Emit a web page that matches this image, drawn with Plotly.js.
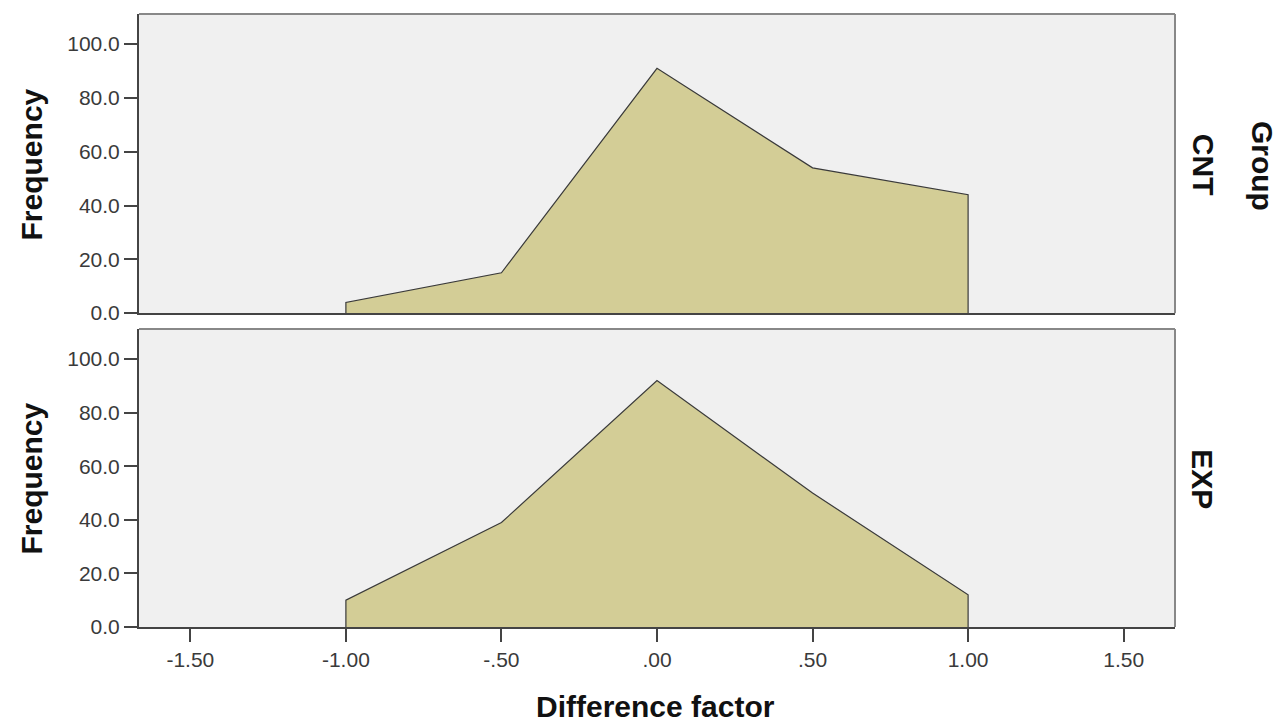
<!DOCTYPE html>
<html>
<head>
<meta charset="utf-8">
<script src="https://cdn.plot.ly/plotly-3.0.1.min.js"></script>
<style>html,body{margin:0;padding:0;background:#fff;}#chart{width:1283px;height:725px;}</style>
</head>
<body>
<div id="chart"></div>
<script>
// Data
const diffFactor = [-1.0, -0.5, 0.0, 0.5, 1.0];
const groups = ["CNT", "EXP"];
const freqCNT = [4, 15, 91, 54, 44];
const freqEXP = [10, 39, 92, 50, 12];
const xTickVals = [-1.5, -1.0, -0.5, 0.0, 0.5, 1.0, 1.5];
const xTickText = ["-1.50", "-1.00", "-.50", ".00", ".50", "1.00", "1.50"];
const yTickVals = [0, 20, 40, 60, 80, 100];
const yTickText = ["0.0", "20.0", "40.0", "60.0", "80.0", "100.0"];

const fillColor = "#d3cd96";
const outline = "#3a3a3a";
const FAM = "Liberation Sans, Arial, sans-serif";

function closedArea(xs, ys) {
  return {
    x: [xs[0]].concat(xs, [xs[xs.length - 1]]),
    y: [0].concat(ys, [0])
  };
}

const a1 = closedArea(diffFactor, freqCNT);
const a2 = closedArea(diffFactor, freqEXP);

const traces = [
  {x: a1.x, y: a1.y, xaxis: "x", yaxis: "y", type: "scatter", mode: "lines",
   fill: "toself", fillcolor: fillColor, line: {color: outline, width: 1.2}, hoverinfo: "x+y", showlegend: false},
  {x: a2.x, y: a2.y, xaxis: "x2", yaxis: "y2", type: "scatter", mode: "lines",
   fill: "toself", fillcolor: fillColor, line: {color: outline, width: 1.2}, hoverinfo: "x+y", showlegend: false}
];

const tickFont = {family: FAM, size: 21, color: "#3a3a3a"};
const boldFont = {family: FAM, size: 30, color: "#111", weight: "bold"};

const yBase = {
  range: [0, 111.2], tickvals: yTickVals, ticktext: yTickText,
  ticks: "outside", ticklen: 13, tickwidth: 2, tickcolor: "#444",
  showgrid: false, zeroline: false, showline: true, linecolor: "#444", linewidth: 2,
  tickfont: tickFont, fixedrange: true
};
const xBase = {
  range: [-1.665, 1.665], tickvals: xTickVals, ticktext: xTickText,
  showgrid: false, zeroline: false, showline: true, linecolor: "#444", linewidth: 2,
  tickfont: tickFont, fixedrange: true
};

function ann(text, x, y, angle) {
  return {text: text, xref: "paper", yref: "paper", x: x, y: y, showarrow: false,
          xanchor: "center", yanchor: "middle", textangle: angle, font: boldFont};
}

const layout = {
  width: 1283, height: 725,
  margin: {l: 139, r: 108, t: 14, b: 98},
  paper_bgcolor: "#ffffff", plot_bgcolor: "#f0f0f0",
  font: {family: FAM},
  xaxis: Object.assign({}, xBase, {anchor: "y", showticklabels: false, ticks: ""}),
  yaxis: Object.assign({}, yBase, {domain: [0.512, 1], anchor: "x"}),
  xaxis2: Object.assign({}, xBase, {anchor: "y2", ticks: "outside", ticklen: 13, tickwidth: 2, tickcolor: "#444"}),
  yaxis2: Object.assign({}, yBase, {domain: [0, 0.486], anchor: "x2"}),
  shapes: [
    {type: "line", xref: "paper", yref: "paper", x0: 0, x1: 1, y0: 1, y1: 1, line: {color: "#888", width: 2}},
    {type: "line", xref: "paper", yref: "paper", x0: 1, x1: 1, y0: 0.512, y1: 1, line: {color: "#888", width: 2}},
    {type: "line", xref: "paper", yref: "paper", x0: 0, x1: 1, y0: 0.486, y1: 0.486, line: {color: "#888", width: 2}},
    {type: "line", xref: "paper", yref: "paper", x0: 1, x1: 1, y0: 0, y1: 0.486, line: {color: "#888", width: 2}}
  ],
  annotations: [
    ann("Frequency", -0.1038, 0.7553, -90),
    ann("Frequency", -0.1038, 0.243, -90),
    ann("Difference factor", 0.499, -0.1305, 0),
    ann(groups[0], 1.027, 0.754, 90),
    ann(groups[1], 1.027, 0.241, 90),
    ann("Group", 1.085, 0.752, 90)
  ]
};

Plotly.newPlot("chart", traces, layout, {displayModeBar: false, staticPlot: true});
</script>
</body>
</html>
